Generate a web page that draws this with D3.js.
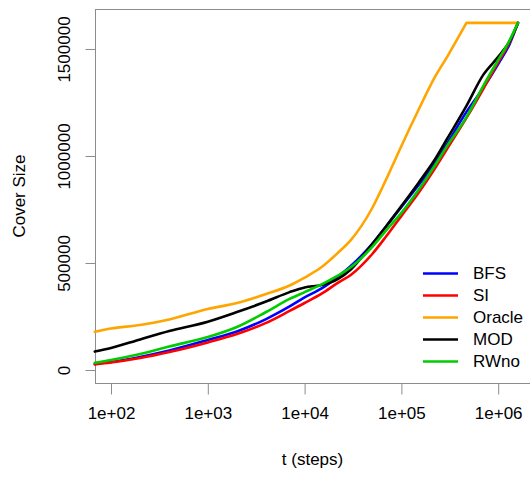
<!DOCTYPE html>
<html>
<head>
<meta charset="utf-8">
<script src="https://cdn.jsdelivr.net/npm/d3@7"></script>
<style>
  html, body { margin: 0; padding: 0; background: #fff; }
  svg { display: block; }
  text { font-family: "Liberation Sans", Arial, Helvetica, sans-serif; fill: #000; }
</style>
</head>
<body>
<svg id="chart" width="530" height="477"></svg>
<script>
// ---- data ----
const steps = [68, 100, 200, 400, 1000, 2000, 4000, 7000, 10000, 15000, 22000, 30000,
               50000, 70000, 100000, 150000, 220000, 300000, 470000, 700000, 1000000, 1300000, 1600000];
const bfs    = [28000, 37000, 61000, 91000, 140000, 180000, 238000, 297000, 339000, 381000, 435000, 486000,
                589000, 673000, 762000, 864000, 963000, 1061000, 1206000, 1318000, 1430000, 1519000, 1622000];
const si     = [26000, 35000, 56000, 84000, 129000, 168000, 220000, 276000, 313000, 357000, 407000, 444000,
                542000, 626000, 720000, 827000, 939000, 1037000, 1178000, 1313000, 1439000, 1528000, 1622000];
const oracle = [179000, 194000, 210000, 236000, 285000, 313000, 355000, 395000, 432000, 481000, 547000, 607000,
                757000, 893000, 1047000, 1215000, 1366000, 1467000, 1622000, 1622000, 1622000, 1622000, 1622000];
const mod    = [86000, 103000, 143000, 182000, 226000, 271000, 320000, 364000, 386000, 397000, 425000, 470000,
                589000, 673000, 766000, 874000, 981000, 1084000, 1234000, 1379000, 1463000, 1533000, 1622000];
const rwno   = [34000, 47000, 75000, 110000, 154000, 201000, 271000, 332000, 364000, 400000, 441000, 480000,
                575000, 654000, 734000, 841000, 953000, 1051000, 1182000, 1327000, 1449000, 1537000, 1622000];

const seriesNames  = ["BFS", "SI", "Oracle", "MOD", "RWno"];
const seriesColors = ["#0000FF", "#FF0000", "#FFA500", "#000000", "#00CD00"];
const seriesValues = [bfs, si, oracle, mod, rwno];

const xTicks = [1e2, 1e3, 1e4, 1e5, 1e6];
const xTickLabels = ["1e+02", "1e+03", "1e+04", "1e+05", "1e+06"];
const yTicks = [0, 500000, 1000000, 1500000];
const yTickLabels = ["0", "500000", "1000000", "1500000"];

const xTitle = "t (steps)";
const yTitle = "Cover Size";

// ---- layout ----
const pLeft = 95, pRight = 532, pTop = 9, pBottom = 383;
const svg = d3.select("#chart");

const x = d3.scaleLog().domain([Math.pow(10, 1.8347), Math.pow(10, 6.3492)]).range([pLeft, pRight]);
const y = d3.scaleLinear().domain([-60750, 1686900]).range([pBottom, pTop]);

const fontSize = 17;
const axisColor = "#8c8c8c";

// box
svg.append("rect")
  .attr("x", pLeft + 0.5).attr("y", pTop + 0.5)
  .attr("width", pRight - pLeft).attr("height", pBottom - pTop)
  .attr("fill", "none").attr("stroke", axisColor).attr("stroke-width", 1);

// x axis
const xAxis = d3.axisBottom(x).tickValues(xTicks)
  .tickFormat((d, i) => xTickLabels[i]).tickSize(11).tickPadding(12);
const gx = svg.append("g").attr("transform", `translate(0,${pBottom + 0.5})`).call(xAxis);
gx.select(".domain").remove();
gx.selectAll(".tick line").attr("stroke", axisColor);
gx.selectAll(".tick text").attr("font-size", fontSize)
  .attr("font-family", "Liberation Sans, Arial, sans-serif").attr("fill", "#000");

// y axis
const yAxis = d3.axisLeft(y).tickValues(yTicks)
  .tickFormat((d, i) => yTickLabels[i]).tickSize(10).tickPadding(0);
const gy = svg.append("g").attr("transform", `translate(${pLeft + 0.5},0)`).call(yAxis);
gy.select(".domain").remove();
gy.selectAll(".tick line").attr("stroke", axisColor);
gy.selectAll(".tick text")
  .attr("font-size", fontSize)
  .attr("font-family", "Liberation Sans, Arial, sans-serif")
  .attr("fill", "#000")
  .attr("text-anchor", "middle")
  .attr("dy", null)
  .attr("x", null)
  .attr("transform", `translate(${69 - pLeft},0) rotate(-90)`);

// axis titles
svg.append("text")
  .attr("x", (pLeft + pRight) / 2 - 1).attr("y", 465)
  .attr("text-anchor", "middle").attr("font-size", fontSize)
  .text(xTitle);
svg.append("text")
  .attr("transform", `translate(25,${(pTop + pBottom) / 2}) rotate(-90)`)
  .attr("text-anchor", "middle").attr("font-size", fontSize)
  .text(yTitle);

// lines: smooth rising part, straight plateau (if any)
const smooth = d3.line().x(d => x(d[0])).y(d => y(d[1])).curve(d3.curveMonotoneX);
const straight = d3.line().x(d => x(d[0])).y(d => y(d[1]));
const plot = svg.append("g");
seriesValues.forEach((vals, i) => {
  const pts = steps.map((t, j) => [t, vals[j]]);
  const maxV = d3.max(vals);
  const k = vals.indexOf(maxV);
  let d = smooth(pts.slice(0, k + 1));
  if (k < pts.length - 1) d += straight(pts.slice(k)).replace(/^M/, "L");
  plot.append("path")
    .attr("d", d)
    .attr("fill", "none")
    .attr("stroke", seriesColors[i])
    .attr("stroke-width", 2.6)
    .attr("stroke-linejoin", "round")
    .attr("stroke-linecap", "round");
});

// legend
const legend = svg.append("g");
const legX1 = 423, legX2 = 458, legTextX = 473, legY0 = 273.5, legDy = 22;
seriesNames.forEach((name, i) => {
  const yy = legY0 + i * legDy;
  legend.append("line")
    .attr("x1", legX1).attr("x2", legX2).attr("y1", yy).attr("y2", yy)
    .attr("stroke", seriesColors[i]).attr("stroke-width", 2.6);
  legend.append("text")
    .attr("x", legTextX).attr("y", yy).attr("dy", "0.35em")
    .attr("font-size", fontSize)
    .text(name);
});
</script>
</body>
</html>
